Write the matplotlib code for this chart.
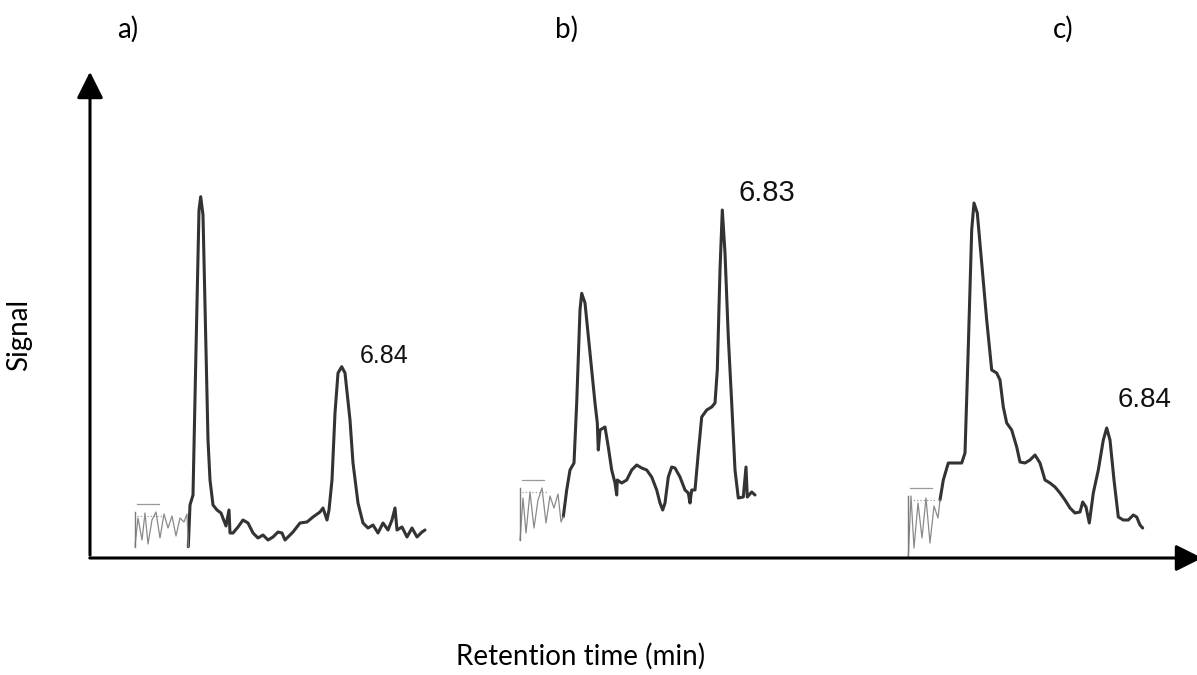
import matplotlib.pyplot as plt
import numpy as np

# traces (x: arbitrary retention units, y: signal units)
t_a = [98.3, 100, 103, 106, 109, 110.7, 113, 116, 118, 120, 123, 127, 131, 136, 139, 140,
       143, 148, 153, 158, 163, 168, 173, 178, 183, 188, 192, 195, 198, 203, 210, 217,
       223, 230, 233, 237, 239, 242, 245, 248, 251.7, 255, 260, 263, 268, 273, 278, 283,
       288, 293, 298, 302, 305, 307, 312, 317, 322, 327, 332, 335]
s_a = [11.3, 53, 63, 208, 348, 361.3, 343, 208, 118, 78, 53, 48, 45, 32, 48, 25,
       25, 31, 38, 35, 25, 20, 23, 18, 21, 26, 25, 18, 21, 26, 35, 36,
       41, 46, 50, 38, 48, 78, 145, 185, 191.3, 185, 138, 95, 55, 35, 30, 33,
       25, 35, 28, 38, 50, 28, 31, 21, 30, 21, 26, 28]

t_b = [473.3, 476.7, 480, 484, 486.7, 490, 491.7, 495, 500, 505, 507.3, 508.3, 510, 515,
       518.3, 521.7, 525, 526.7, 527.3, 531.7, 536.7, 541.7, 546.7, 551.7, 556.7, 561.7,
       566.7, 570, 572.7, 575, 578.3, 581.7, 585, 590, 595, 598.3, 600, 601.7, 605, 608.3,
       611.7, 616.7, 621.7, 625, 627.3, 630, 632.3, 635, 638.3, 641.7, 645, 648.3, 653.3,
       656, 657.3, 661.7, 665]
s_b = [41.3, 68, 88, 95, 155, 248, 264.7, 255, 205, 155, 135, 108, 128, 131,
       111, 88, 75, 63, 78, 75, 78, 88, 93, 90, 88, 81,
       68, 55, 48, 55, 81, 91, 90, 81, 68, 65, 55, 68, 68, 105,
       141, 148, 151, 155, 188, 288, 348, 305, 221, 155, 88, 60, 61,
       91, 61, 66, 63]

t_c = [850, 853.3, 858.3, 865, 871.7, 875, 878.3, 881.7, 884, 887.3, 891.7, 896.7, 901.7,
       906.7, 910, 913.3, 916.7, 921.7, 926.7, 930, 935, 940, 945, 950, 955, 960, 965, 970,
       975, 980, 985, 990, 992.7, 996, 999.3, 1003.3, 1008.3, 1013.3, 1016.7, 1020, 1024,
       1028.3, 1033.3, 1038.3, 1043.3, 1046.7, 1050, 1052.7]
s_c = [58, 78, 95, 95, 95, 105, 211, 328, 355, 345, 295, 238, 188,
       185, 178, 151, 135, 128, 111, 96, 95, 98, 103, 95, 78, 75, 71, 65,
       58, 50, 45, 46, 56, 51, 35, 65, 88, 118, 130, 118, 78,
       41, 38, 38, 43, 41, 33, 30]

# scribbled integration marks at the start of each trace
n_a_x = [45, 48, 52, 55, 58, 62, 66, 70, 74, 78, 82, 86, 90, 94, 97, 98.3]
n_a_y = [12, 40, 18, 45, 14, 38, 46, 20, 44, 30, 42, 22, 40, 36, 44, 11.3]
n_b_x = [430, 433, 436, 440, 444, 448, 452, 456, 460, 464, 468, 471, 473.3]
n_b_y = [18, 60, 25, 66, 30, 58, 70, 35, 62, 50, 64, 36, 41.3]
n_c_x = [818, 821, 824, 828, 832, 836, 840, 844, 848, 850]
n_c_y = [-6, 62, 10, 55, 20, 60, 15, 52, 40, 58]

labels = ["6.84", "6.83", "6.84"]
label_x = [270, 648, 1028]
label_y = [202, 365, 158]
label_size = [18, 21, 20]
panels = ["a)", "b)", "c)"]
panel_x = [117 / 1197, 555 / 1197, 1053 / 1197]

fig = plt.figure(figsize=(11.97, 6.75), dpi=100)
ax = fig.add_axes([90 / 1197, 117 / 675, 1107 / 1197, 490 / 675])
ax.set_xlim(0, 1107)
ax.set_ylim(0, 490)
ax.axis("off")

ink = "#333333"
for t, s in [(t_a, s_a), (t_b, s_b), (t_c, s_c)]:
    ax.plot(t, s, color=ink, lw=2.2, solid_joinstyle="round", solid_capstyle="round")

for nx, ny in [(n_a_x, n_a_y), (n_b_x, n_b_y), (n_c_x, n_c_y)]:
    ax.plot(nx, ny, color="#8a8a8a", lw=0.9)
    ax.plot([nx[0] + 2, nx[0] + 24], [max(ny) + 8, max(ny) + 8], color="#9a9a9a", lw=0.9)
    ax.plot([nx[0] + 2, nx[0] + 28], [max(ny) - 4, max(ny) - 4], color="#9a9a9a", lw=0.9, ls=":")
    ax.plot([nx[0], nx[0]], [min(ny), max(ny)], color="#7a7a7a", lw=1.0)

for lab, x, y, fs in zip(labels, label_x, label_y, label_size):
    ax.text(x, y, lab, fontsize=fs, family="Liberation Sans", ha="left", va="center", color="#111111")

# arrow axes
fig.add_artist(plt.matplotlib.patches.FancyArrowPatch(
    (90 / 1197, 117 / 675), (90 / 1197, 606 / 675), transform=fig.transFigure,
    arrowstyle="-|>,head_length=0.9,head_width=0.45", mutation_scale=18, lw=2.2, color="black"))
fig.add_artist(plt.matplotlib.patches.FancyArrowPatch(
    (87 / 1197, 117 / 675), (1205 / 1197, 117 / 675), transform=fig.transFigure,
    arrowstyle="-|>,head_length=0.9,head_width=0.45", mutation_scale=18, lw=2.2, color="black"))

for p, x in zip(panels, panel_x):
    fig.text(x, 0.957, p, fontsize=20, family="Lato", ha="left", va="center")

fig.text(581 / 1197, 0.027, "Retention time (min)", fontsize=20, family="Lato", ha="center", va="center")
fig.text(0.016, 0.504, "Signal", fontsize=20, family="Lato", rotation=90, ha="center", va="center")

fig.savefig("out.png", dpi=100)
